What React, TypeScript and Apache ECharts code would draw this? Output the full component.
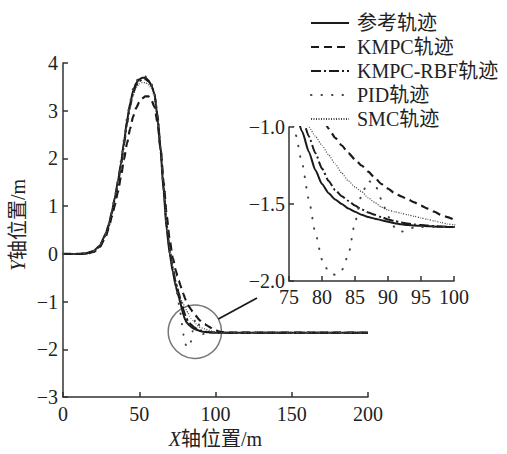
import React, { useEffect, useRef } from 'react';
import * as echarts from 'echarts';

// x positions (m) shared by every trajectory
const X = [0, 10, 15, 20, 24, 28, 30, 32, 34, 36, 38, 40, 42, 44, 46, 48, 50, 52, 54, 56, 58, 60, 62, 64, 66, 68, 70, 72, 74, 75, 76, 77, 78, 79, 80, 81, 82, 83, 84, 85, 86, 87, 88, 89, 90, 91, 92, 93, 94, 95, 96, 97, 98, 99, 100, 102, 105, 110, 200];

const REF = [0, 0, 0.01, 0.06, 0.17, 0.42, 0.62, 0.88, 1.18, 1.52, 1.9, 2.35, 2.8, 3.15, 3.42, 3.58, 3.66, 3.69, 3.69, 3.64, 3.53, 3.35, 2.85, 2.15, 1.3, 0.5, 0.0, -0.38, -0.68, -0.8, -0.91, -1.03, -1.16, -1.28, -1.37, -1.43, -1.47, -1.5, -1.53, -1.55, -1.57, -1.585, -1.595, -1.605, -1.615, -1.625, -1.632, -1.636, -1.64, -1.642, -1.644, -1.646, -1.648, -1.649, -1.65, -1.65, -1.65, -1.65, -1.65];

const KMPC = [0, 0, 0, 0.04, 0.14, 0.36, 0.55, 0.78, 1.02, 1.3, 1.62, 1.98, 2.32, 2.62, 2.88, 3.06, 3.18, 3.26, 3.3, 3.3, 3.22, 3.08, 2.75, 2.2, 1.5, 0.8, 0.28, -0.08, -0.35, -0.46, -0.56, -0.66, -0.75, -0.84, -0.93, -1.01, -1.07, -1.12, -1.17, -1.21, -1.25, -1.29, -1.33, -1.37, -1.4, -1.43, -1.45, -1.47, -1.49, -1.51, -1.53, -1.55, -1.57, -1.585, -1.6, -1.62, -1.64, -1.65, -1.65];

const RBF = [0, 0, 0.01, 0.05, 0.15, 0.39, 0.58, 0.84, 1.13, 1.46, 1.84, 2.28, 2.73, 3.09, 3.37, 3.54, 3.62, 3.65, 3.66, 3.62, 3.53, 3.35, 2.9, 2.22, 1.4, 0.6, 0.08, -0.3, -0.6, -0.72, -0.83, -0.94, -1.06, -1.17, -1.27, -1.35, -1.41, -1.45, -1.48, -1.51, -1.535, -1.555, -1.57, -1.585, -1.6, -1.61, -1.62, -1.627, -1.633, -1.637, -1.64, -1.643, -1.646, -1.648, -1.65, -1.65, -1.65, -1.65, -1.65];

const PID = [0, 0, 0.01, 0.06, 0.18, 0.43, 0.63, 0.9, 1.2, 1.55, 1.94, 2.4, 2.85, 3.2, 3.46, 3.62, 3.7, 3.73, 3.72, 3.66, 3.56, 3.38, 2.9, 2.2, 1.35, 0.55, 0.02, -0.35, -0.68, -0.85, -1.05, -1.24, -1.47, -1.69, -1.86, -1.94, -1.96, -1.93, -1.83, -1.62, -1.44, -1.35, -1.37, -1.47, -1.58, -1.65, -1.68, -1.67, -1.65, -1.65, -1.65, -1.65, -1.65, -1.65, -1.65, -1.65, -1.65, -1.65, -1.65];

const SMC = [0, 0, 0.01, 0.05, 0.16, 0.4, 0.6, 0.86, 1.15, 1.48, 1.86, 2.3, 2.72, 3.06, 3.32, 3.48, 3.56, 3.59, 3.59, 3.55, 3.47, 3.3, 2.88, 2.22, 1.42, 0.65, 0.12, -0.26, -0.58, -0.7, -0.84, -0.93, -1.0, -1.06, -1.12, -1.18, -1.24, -1.3, -1.35, -1.39, -1.42, -1.46, -1.49, -1.52, -1.54, -1.55, -1.56, -1.57, -1.58, -1.59, -1.6, -1.61, -1.62, -1.63, -1.635, -1.645, -1.65, -1.65, -1.65];

const NAMES = ['参考轨迹', 'KMPC轨迹', 'KMPC-RBF轨迹', 'PID轨迹', 'SMC轨迹'];
const SERIES_Y = [REF, KMPC, RBF, PID, SMC];

// axis ranges
const MAIN_X_RANGE = [0, 200, 50];
const MAIN_Y_RANGE = [-3, 4, 1];
const INSET_X_RANGE = [75, 100, 5];
const INSET_Y_RANGE = [-2, -1, 0.5];
// zoomed region marked on main plot
const ZOOM_CENTER = [86.5, -1.63];

const FONT = "'Liberation Serif', 'Times New Roman', 'Noto Sans CJK SC', serif";
const minus = (s: string) => s.replace('-', '\u2212');

export default function App() {
  const ref = useRef<HTMLDivElement>(null);
  useEffect(() => {
    document.body.style.margin = '0';
    const chart = echarts.init(ref.current!, null, { renderer: 'svg' });

    const styles: any[] = [
      { color: '#1a1a1a', width: 2, type: 'solid' },
      { color: '#1a1a1a', width: 2.2, type: [8, 5] },
      { color: '#1a1a1a', width: 2, type: [10, 3, 2, 3] },
      { color: '#444', width: 2, type: [0.5, 10], cap: 'round' },
      { color: '#444', width: 1.2, type: [1, 1.5] },
    ];

    const axisCommon = {
      axisLine: { show: true, onZero: false, lineStyle: { color: '#333', width: 1.5 } },
      axisTick: { show: true, inside: true, length: 5, lineStyle: { color: '#333', width: 1.5 } },
      splitLine: { show: false },
    };
    const labelStyle = { fontFamily: FONT, fontSize: 20, color: '#222' };

    const series: any[] = [];
    [0, 1].forEach((g) => {
      SERIES_Y.forEach((ys, k) => {
        series.push({
          type: 'line',
          name: NAMES[k],
          xAxisIndex: g,
          yAxisIndex: g,
          data: X.map((x, i) => [x, ys[i]]),
          showSymbol: false,
          symbol: 'none',
          smooth: 0.2,
          smoothMonotone: 'x',
          clip: true,
          lineStyle: styles[k],
          itemStyle: { color: styles[k].color },
          emphasis: { disabled: true },
        });
      });
    });

    const option: any = {
      animation: false,
      grid: [
        { left: 63, top: 63, width: 305, height: 341 },
        { left: 289, top: 127, width: 165, height: 154 },
      ],
      legend: {
        orient: 'vertical',
        left: 305,
        top: 8,
        itemWidth: 38,
        itemHeight: 14,
        itemGap: 4,
        selectedMode: false,
        data: NAMES,
        itemStyle: { opacity: 0 },
        textStyle: { ...labelStyle, padding: [0, 0, 0, 3] },
      },
      xAxis: [
        {
          type: 'value', gridIndex: 0,
          min: MAIN_X_RANGE[0], max: MAIN_X_RANGE[1], interval: MAIN_X_RANGE[2],
          ...axisCommon,
          axisLabel: { ...labelStyle, margin: 7 },
          name: '{i|X}轴位置/m',
          nameLocation: 'middle',
          nameGap: 28,
          nameTextStyle: { ...labelStyle, rich: { i: { ...labelStyle, fontStyle: 'italic' } } },
        },
        {
          type: 'value', gridIndex: 1,
          min: INSET_X_RANGE[0], max: INSET_X_RANGE[1], interval: INSET_X_RANGE[2],
          ...axisCommon,
          axisLabel: { ...labelStyle, margin: 6 },
        },
      ],
      yAxis: [
        {
          type: 'value', gridIndex: 0,
          min: MAIN_Y_RANGE[0], max: MAIN_Y_RANGE[1], interval: MAIN_Y_RANGE[2],
          ...axisCommon,
          axisLabel: { ...labelStyle, margin: 5, formatter: (v: number) => minus(String(v)) },
        },
        {
          type: 'value', gridIndex: 1,
          min: INSET_Y_RANGE[0], max: INSET_Y_RANGE[1], interval: INSET_Y_RANGE[2],
          ...axisCommon,
          axisLabel: { ...labelStyle, margin: 4, formatter: (v: number) => minus(v.toFixed(1)) },
        },
      ],
      series,
    };
    chart.setOption(option);

    const c = chart.convertToPixel({ gridIndex: 0 }, ZOOM_CENTER) as number[];
    const corner = chart.convertToPixel({ gridIndex: 1 }, [INSET_X_RANGE[0], INSET_Y_RANGE[0]]) as number[];
    const r = 26.7;
    const end = [corner[0] - 32, corner[1] + 17];
    const dx = end[0] - c[0];
    const dy = end[1] - c[1];
    const len = Math.sqrt(dx * dx + dy * dy);
    const start = [c[0] + (r * dx) / len, c[1] + (r * dy) / len];

    chart.setOption({
      graphic: [
        {
          type: 'text',
          x: 18,
          y: 225,
          rotation: Math.PI / 2,
          style: {
            text: '{i|Y}轴位置/m',
            rich: { i: { fontFamily: FONT, fontSize: 20, fontStyle: 'italic', fill: '#222' } },
            fontFamily: FONT,
            fontSize: 20,
            fill: '#222',
            align: 'center',
            verticalAlign: 'middle',
          },
        },
        {
          type: 'circle',
          shape: { cx: c[0], cy: c[1], r },
          style: { fill: 'none', stroke: '#777', lineWidth: 1.5 },
        },
        {
          type: 'line',
          shape: { x1: start[0], y1: start[1], x2: end[0], y2: end[1] },
          style: { stroke: '#1a1a1a', lineWidth: 1.8 },
        },
      ],
    });

    return () => chart.dispose();
  }, []);

  return <div ref={ref} style={{ width: 507, height: 454 }} />;
}
